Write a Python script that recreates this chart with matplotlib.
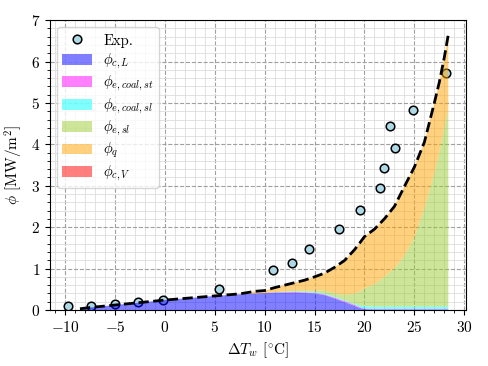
import numpy as np
import matplotlib
matplotlib.use("Agg")
import matplotlib.pyplot as plt
from matplotlib.ticker import MultipleLocator
from matplotlib.patches import Patch, Rectangle
from matplotlib.lines import Line2D
from matplotlib.legend_handler import HandlerPatch

plt.rcParams['font.family'] = 'serif'
plt.rcParams['font.serif'] = ['cmr10', 'DejaVu Serif']
plt.rcParams['mathtext.fontset'] = 'cm'
plt.rcParams['axes.formatter.use_mathtext'] = True
plt.rcParams['axes.unicode_minus'] = True

# Experimental points
exp_dT = [-9.7, -7.4, -5.0, -2.7, -0.2, 5.4, 10.8, 12.7, 14.4, 17.4, 19.6,
          21.6, 22.0, 22.55, 23.05, 24.9, 28.2]
exp_phi = [0.10, 0.10, 0.15, 0.20, 0.25, 0.50, 0.97, 1.13, 1.47, 1.95, 2.41,
           2.95, 3.42, 4.44, 3.92, 4.82, 5.72]

# Model components (stacked)
dT = [-8.5, -7.5, -5.0, -2.5, 0.0, 2.5, 5.0, 7.5, 9.0, 10.0, 11.0, 12.0, 13.0,
      14.0, 15.0, 16.0, 17.0, 18.0, 19.0, 19.5, 20.0, 21.0, 22.0, 23.0, 24.0,
      25.0, 26.0, 27.0, 27.5, 28.0, 28.4]
phi_cL = [0.03, 0.06, 0.12, 0.18, 0.24, 0.29, 0.34, 0.38, 0.40, 0.41, 0.42,
          0.42, 0.42, 0.41, 0.40, 0.36, 0.28, 0.19, 0.10, 0.05, 0.02, 0.01,
          0.01, 0.01, 0.01, 0.01, 0.01, 0.01, 0.01, 0.01, 0.01]
phi_e_coal_st = [0, 0, 0, 0, 0, 0, 0, 0, 0, 0, 0.005, 0.01, 0.015, 0.015,
                 0.015, 0.015, 0.02, 0.025, 0.025, 0.02, 0.012, 0.012, 0.012,
                 0.012, 0.012, 0.012, 0.012, 0.012, 0.012, 0.012, 0.012]
phi_e_coal_sl = [0, 0, 0, 0, 0, 0, 0, 0, 0, 0, 0.005, 0.01, 0.015, 0.02,
                 0.02, 0.02, 0.02, 0.02, 0.02, 0.04, 0.06, 0.06, 0.06, 0.06,
                 0.06, 0.06, 0.06, 0.06, 0.06, 0.06, 0.06]
phi_e_sl = [0, 0, 0, 0, 0, 0, 0, 0, 0, 0, 0, 0.005, 0.01, 0.02, 0.04, 0.07,
            0.09, 0.13, 0.25, 0.33, 0.43, 0.54, 0.72, 0.92, 1.22, 1.67, 2.37,
            3.22, 3.72, 4.32, 4.77]
phi_q = [0, 0, 0, 0, 0, 0, 0, 0.01, 0.05, 0.06, 0.11, 0.155, 0.20, 0.255,
         0.325, 0.425, 0.62, 0.83, 1.06, 1.17, 1.25, 1.33, 1.40, 1.50, 1.68,
         1.70, 1.60, 1.70, 1.70, 1.70, 1.80]
phi_cV = [0.0] * len(dT)

labels = [r'$\phi_{c,L}$', r'$\phi_{e,coal,st}$', r'$\phi_{e,coal,sl}$',
          r'$\phi_{e,sl}$', r'$\phi_q$', r'$\phi_{c,V}$']
colors = ['blue', 'magenta', 'cyan', 'yellowgreen', 'orange', 'red']

fig = plt.figure(figsize=(4.88, 3.66), dpi=100)
ax = fig.add_axes([0.1025, 0.153, 0.853, 0.792])

ax.scatter(exp_dT, exp_phi, s=38, facecolor='lightblue', edgecolor='black',
           linewidth=1.1, zorder=2)
comps = [phi_cL, phi_e_coal_st, phi_e_coal_sl, phi_e_sl, phi_q, phi_cV]
ax.stackplot(dT, *comps, colors=colors, alpha=0.5, linewidth=0, zorder=3)
total = np.sum(np.array(comps), axis=0)
ax.plot(dT, total, color='black', lw=2, ls='--', zorder=4)

ax.set_xlim(-11.5, 30.2)
ax.set_ylim(0, 7)
ax.xaxis.set_major_locator(MultipleLocator(5))
ax.xaxis.set_minor_locator(MultipleLocator(1))
ax.yaxis.set_major_locator(MultipleLocator(1))
ax.yaxis.set_minor_locator(MultipleLocator(0.2))
ax.set_axisbelow(True)
ax.grid(which='major', color='#a0a0a0', ls='--', lw=0.8)
ax.grid(which='minor', color='#dddddd', ls='-', lw=0.6)
ax.tick_params(labelsize=11)

ax.set_xlabel(r'$\Delta T_w$ [$^{\circ}$C]', fontsize=11)
ax.set_ylabel(r'$\phi$ [MW/m$^2$]', fontsize=11)

# legend with uniform row heights
fs = 10.5


def fixed_rect(legend, orig_handle, xdescent, ydescent, width, height, fontsize):
    ph = 0.75 * fontsize
    return Rectangle((-xdescent, -ydescent + (height - ph) / 2), width, ph)


handles = [Line2D([], [], ls='none', marker='o', markersize=6.2,
                  markerfacecolor='lightblue', markeredgecolor='black',
                  markeredgewidth=1.1)]
handles += [Patch(facecolor=c, alpha=0.5, linewidth=0) for c in colors]
ax.legend(handles, ['Exp.'] + labels, loc='upper left', fontsize=fs,
          handlelength=2.0, handleheight=1.3, labelspacing=0.2,
          borderpad=0.35, handler_map={Patch: HandlerPatch(patch_func=fixed_rect)})

fig.savefig('out.png', dpi=100)
